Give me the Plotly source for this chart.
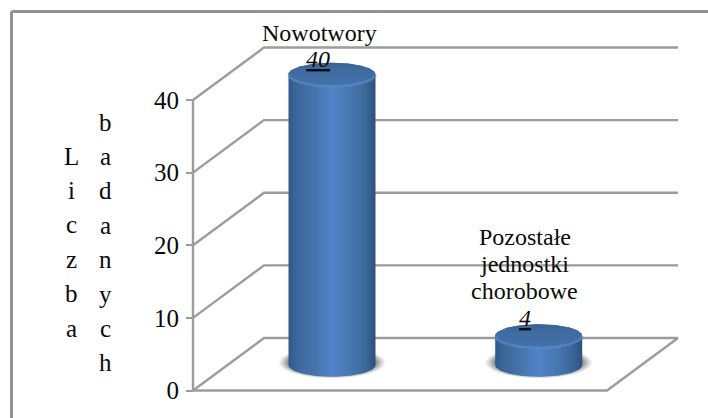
import numpy as np
import plotly.graph_objects as go

# Data
categories = ["Nowotwory", "Pozostałe jednostki chorobowe"]
counts = [40, 4]
tick_values = [0, 10, 20, 30, 40]
title_columns = ["Liczba", "badanych"]

# Figure geometry
WIDTH, HEIGHT = 708, 418
Y_ZERO_PX, Y_TOP_PX = 390.5, 100.0
PX_PER_UNIT = (Y_ZERO_PX - Y_TOP_PX) / 40
BAR_X_PX = [332.0, 538.7]
PX_PER_CAT = BAR_X_PX[1] - BAR_X_PX[0]

y_range = [-(HEIGHT - Y_ZERO_PX) / PX_PER_UNIT, Y_ZERO_PX / PX_PER_UNIT]
x_range = [-BAR_X_PX[0] / PX_PER_CAT, (WIDTH - BAR_X_PX[0]) / PX_PER_CAT]


def dx(px):
    return px / PX_PER_CAT


def dy(px):
    return px / PX_PER_UNIT


x_front = dx(193 - BAR_X_PX[0])
x_front_end = dx(607 - BAR_X_PX[0])
depth_x = dx(71)
depth_y = dy(52.5)
GRID = "#9c9c9c"
FONT = "Liberation Serif"
TEXT = "#0a0a0a"
BASE = dy(25.5)
RX, RY = dx(43.5), dy(11.8)

fig = go.Figure()


def line(xs, ys, color=GRID, width=2.4):
    fig.add_trace(go.Scatter(x=xs, y=ys, mode="lines", hoverinfo="skip",
                             line=dict(color=color, width=width)))


# Back wall and side wall gridlines
for v in tick_values:
    line([x_front, x_front + depth_x, x_front + depth_x + dx(414)],
         [v, v + depth_y, v + depth_y])

# Floor and the front edge of the value axis
line([x_front, x_front_end, x_front + depth_x + dx(414)], [0, 0, depth_y])
line([x_front, x_front], [0, 40])

t = np.linspace(0, 2 * np.pi, 121)
lower = np.linspace(np.pi, 2 * np.pi, 61)
upper = np.linspace(0, np.pi, 61)

body_scale = [[0, "#30598a"], [0.1, "#3b6799"], [0.3, "#4674ac"], [0.5, "#5084c8"],
              [0.72, "#4776b0"], [0.9, "#3a6596"], [1, "#2c517c"]]
top_scale = [[0, "#4372ab"], [0.7, "#3e6b9f"], [1, "#38618f"]]
shadow_scale = [[0, "rgba(85,85,85,0.95)"], [0.78, "rgba(90,90,90,0.85)"],
                [1, "rgba(130,130,130,0)"]]

for i, value in enumerate(counts):
    top_y = BASE + value

    # Soft contact shadow under the cylinder
    fig.add_trace(go.Scatter(
        x=i + dx(54) * np.cos(t), y=BASE + dy(2.5) + dy(16) * np.sin(t),
        mode="lines", line=dict(width=0), fill="toself", hoverinfo="skip",
        fillgradient=dict(type="radial", colorscale=shadow_scale)))

    # Cylinder side
    xs = np.r_[i + RX * np.cos(lower), i + RX * np.cos(upper)]
    ys = np.r_[BASE + RY * np.sin(lower), top_y + RY * np.sin(upper)]
    fig.add_trace(go.Scatter(
        x=xs, y=ys, mode="lines", line=dict(width=0), fill="toself", hoverinfo="skip",
        fillgradient=dict(type="horizontal", colorscale=body_scale)))

    # Cylinder top with a soft light bevel along its front rim
    fig.add_trace(go.Scatter(
        x=i + RX * np.cos(t), y=top_y + RY * np.sin(t),
        mode="lines", line=dict(width=0), fill="toself", hoverinfo="skip",
        fillgradient=dict(type="vertical", colorscale=top_scale)))
    line(i + RX * np.cos(lower), top_y + RY * np.sin(lower),
         color="rgba(96,146,210,0.55)", width=2.5)

annotations = []


def label(x, y, text, size=24, xshift=0, yshift=0, italic=False):
    annotations.append(dict(
        x=x, y=y, text=text, showarrow=False, xshift=xshift, yshift=yshift,
        xanchor="center", yanchor="middle",
        font=dict(family=FONT, size=size, color=TEXT,
                  style="italic" if italic else "normal")))


# Value and category labels above each cylinder
label(0, 40, categories[0], xshift=-13, yshift=67)
label(0, 40, f"<u>{counts[0]}</u>", xshift=-14, yshift=41, italic=True)
for n, part in enumerate(["Pozostałe", "jednostki", "chorobowe"]):
    label(1, 4, part, xshift=-14, yshift=124 - 27 * n)
label(1, 4, f"<u>{counts[1]}</u>", xshift=-14, yshift=43, italic=True)

# Axis title set as two columns of upright letters
for word, col_px, first_px in zip(title_columns, [71, 105], [156, 122]):
    for n, ch in enumerate(word):
        px = first_px + n * 34.4
        annotations.append(dict(
            xref="paper", x=col_px / WIDTH, y=(Y_ZERO_PX - px) / PX_PER_UNIT,
            text=ch, showarrow=False, xanchor="center", yanchor="middle",
            font=dict(family=FONT, size=25, color=TEXT)))

# Frame runs along the top and left edges only
frame_left = 11.5 / WIDTH
frame_top = 1 - 11.5 / HEIGHT
frame = [
    dict(type="line", xref="paper", yref="paper", x0=frame_left, x1=frame_left,
         y0=0, y1=frame_top, line=dict(color="#929292", width=3), layer="below"),
    dict(type="line", xref="paper", yref="paper", x0=frame_left, x1=1,
         y0=frame_top, y1=frame_top, line=dict(color="#929292", width=3), layer="below"),
]

fig.update_layout(
    width=WIDTH, height=HEIGHT, margin=dict(l=0, r=0, t=0, b=0),
    paper_bgcolor="white", plot_bgcolor="white", showlegend=False,
    annotations=annotations, shapes=frame,
    xaxis=dict(range=x_range, visible=False, fixedrange=True),
    yaxis=dict(range=y_range, anchor="free", position=193 / WIDTH, showgrid=False,
               zeroline=False, showline=False, tickvals=tick_values, ticks="outside",
               ticklen=7, tickwidth=2.4, tickcolor=GRID, fixedrange=True,
               ticklabelstandoff=2,
               tickfont=dict(family=FONT, size=25, color=TEXT)),
)

fig.write_html("out.html", config=dict(displayModeBar=False))
